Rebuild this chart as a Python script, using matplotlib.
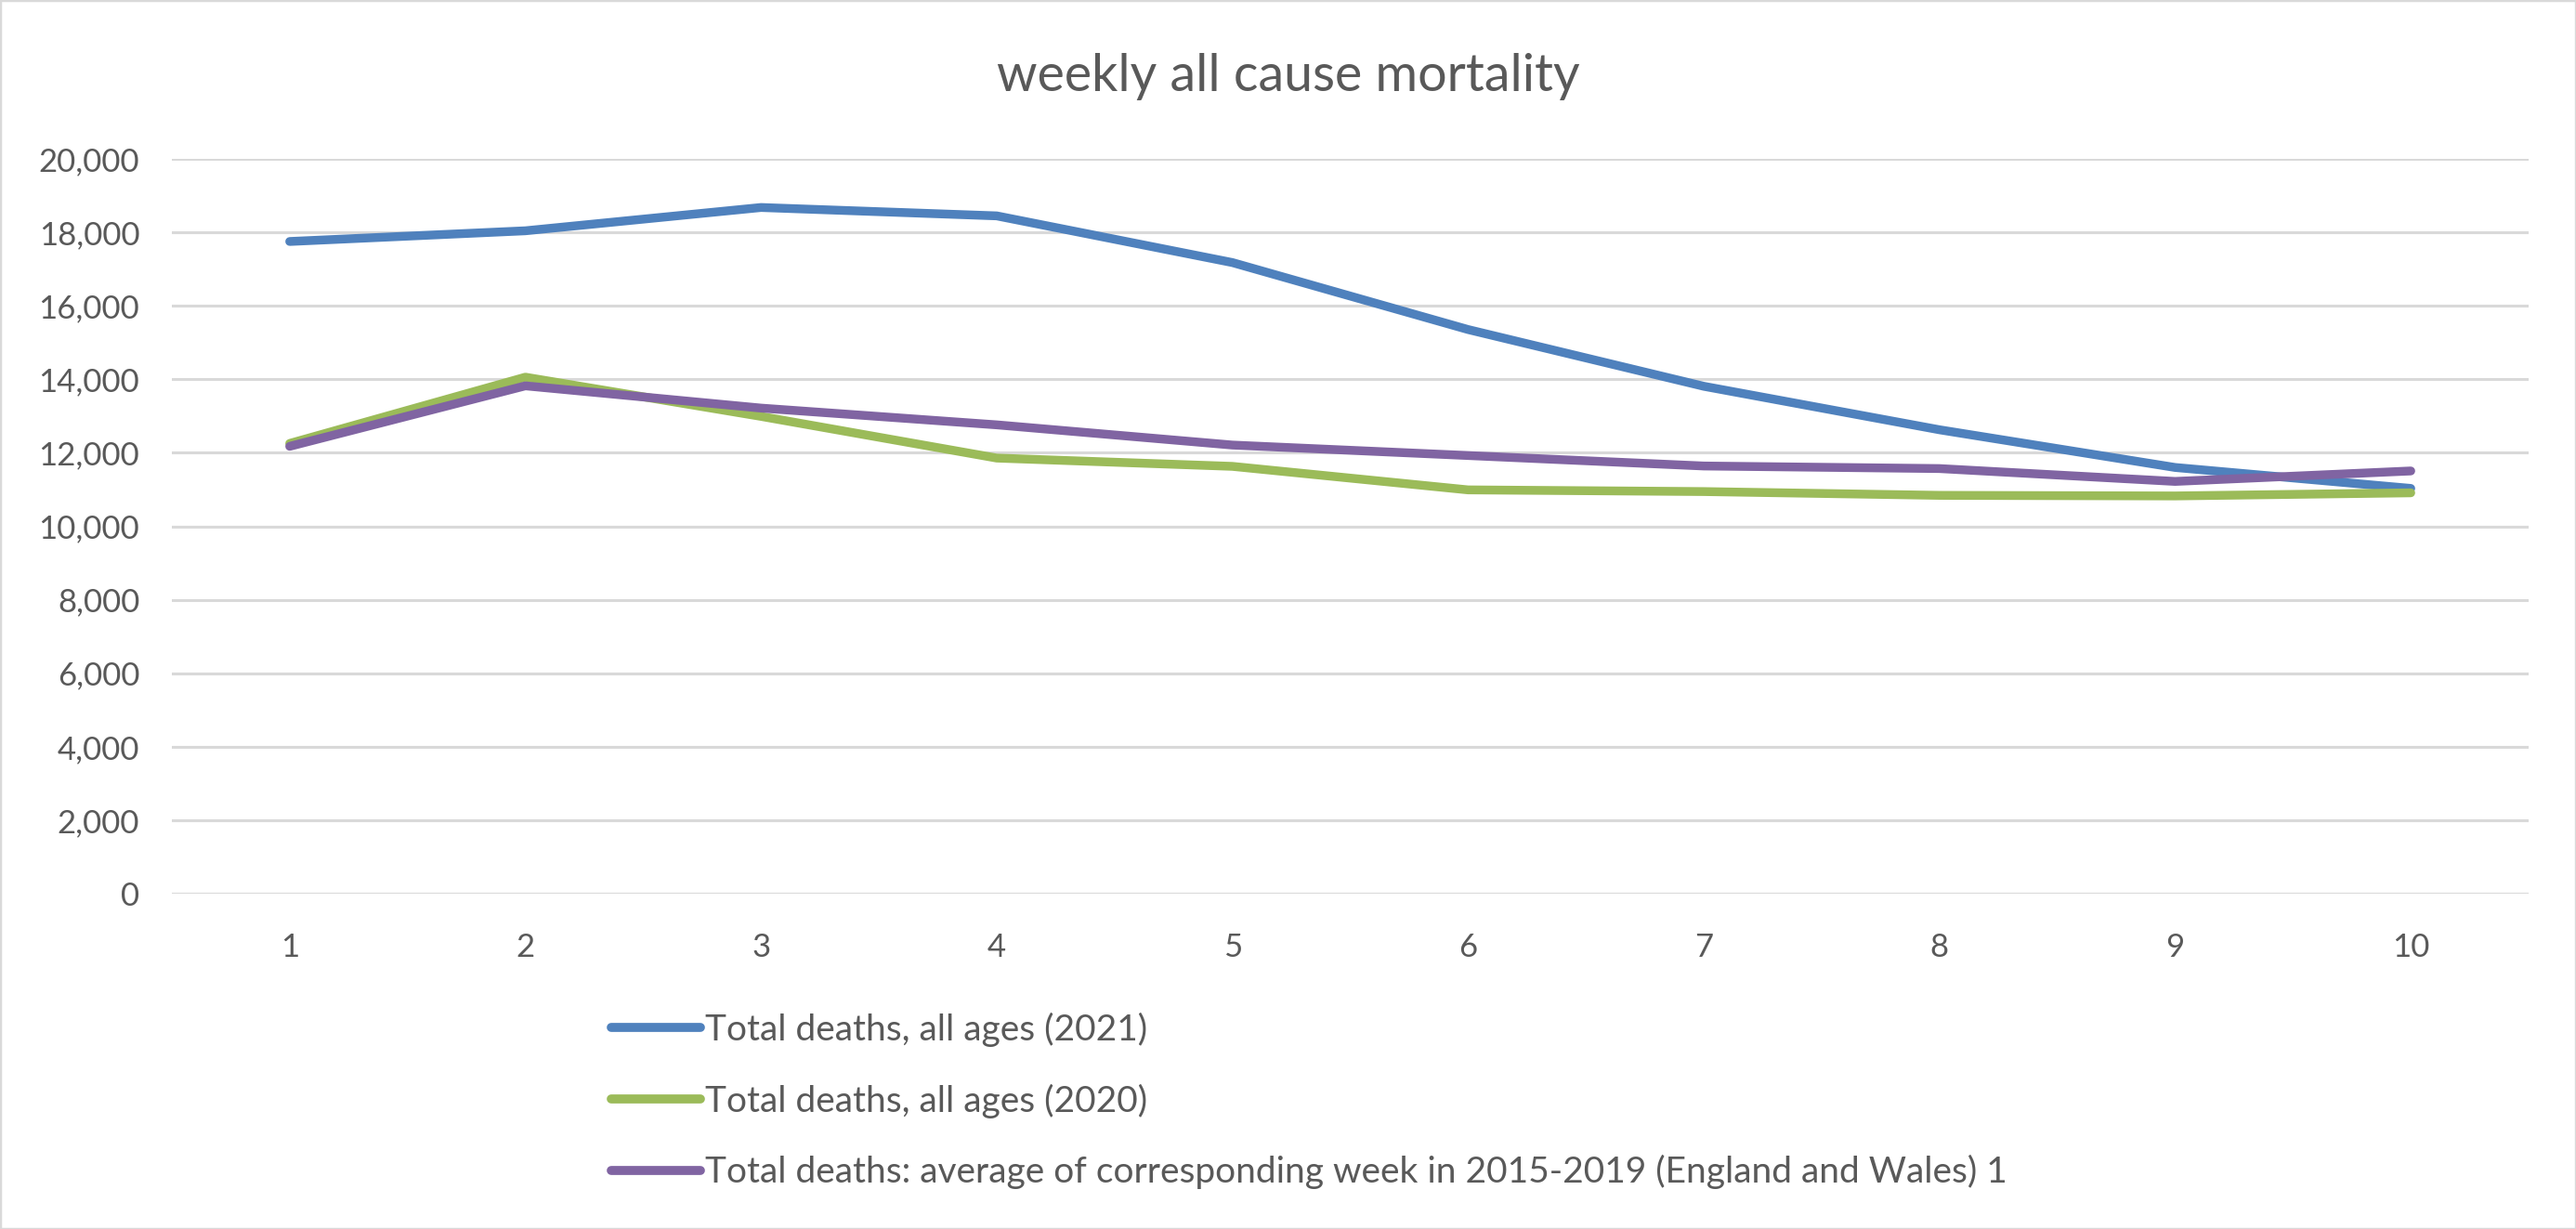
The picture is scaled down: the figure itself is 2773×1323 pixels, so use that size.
import matplotlib
matplotlib.use("Agg")
import matplotlib.pyplot as plt
from matplotlib.ticker import FuncFormatter
from matplotlib.patches import Rectangle

weeks = [1, 2, 3, 4, 5, 6, 7, 8, 9, 10]
deaths_2021 = [17751, 18042, 18676, 18448, 17177, 15354, 13810, 12626, 11600, 11030]
deaths_2020 = [12254, 14058, 12990, 11856, 11630, 10990, 10944, 10841, 10825, 10910]
avg_2015_2019 = [12175, 13822, 13216, 12760, 12210, 11925, 11640, 11570, 11220, 11505]

labels = [
    "Total deaths, all ages (2021)",
    "Total deaths, all ages (2020)",
    "Total deaths: average of corresponding week in 2015-2019 (England and Wales) 1",
]
colors = ["#4F81BD", "#9BBB59", "#8064A2"]
title = "weekly all cause mortality"
yticks = list(range(0, 20001, 2000))

W, H = 2773, 1323
plt.rcParams["font.family"] = ["Lato", "DejaVu Sans"]
text_color = "#595959"
grid_color = "#D9D9D9"

fig = plt.figure(figsize=(W / 100, H / 100), dpi=100)
fig.patch.set_facecolor("white")
fig.patches.append(Rectangle((0, 0), 1, 1, transform=fig.transFigure, fill=False,
                             edgecolor=grid_color, linewidth=2.5, zorder=10))

ax = fig.add_axes([185 / W, (H - 962) / H, (2722 - 185) / W, (962 - 171) / H])
series = [deaths_2021, deaths_2020, avg_2015_2019]
handles = []
for vals, col, lab in zip(series, colors, labels):
    ln, = ax.plot(weeks, vals, color=col, linewidth=6.8, solid_joinstyle="round",
                  solid_capstyle="round", label=lab, zorder=3)
    handles.append(ln)

ax.set_xlim(0.5, 10.5)
ax.set_ylim(0, 20000)
ax.set_yticks(yticks)
ax.set_xticks(weeks)
ax.yaxis.set_major_formatter(FuncFormatter(lambda v, p: f"{int(v):,}"))
ax.grid(axis="y", color=grid_color, linewidth=2.2, zorder=0)
ax.set_axisbelow(True)
for s in ax.spines.values():
    s.set_visible(False)
ax.tick_params(axis="both", length=0, labelsize=25, labelcolor=text_color)
ax.tick_params(axis="y", pad=25)
ax.tick_params(axis="x", pad=30)

fig.text(0.5, 1 - 98 / H, title, ha="center", va="baseline", fontsize=40, color=text_color)

leg = fig.legend(handles=handles, labels=labels, loc="center left",
                 bbox_to_anchor=(658 / W, 1 - 1185 / H), frameon=False,
                 fontsize=28, handlelength=2.47, handletextpad=0.13,
                 labelspacing=1.02, borderpad=0, borderaxespad=0)
for t in leg.get_texts():
    t.set_color(text_color)
for l in leg.get_lines():
    l.set_linewidth(7)

fig.savefig("out.png", dpi=100, facecolor="white")
